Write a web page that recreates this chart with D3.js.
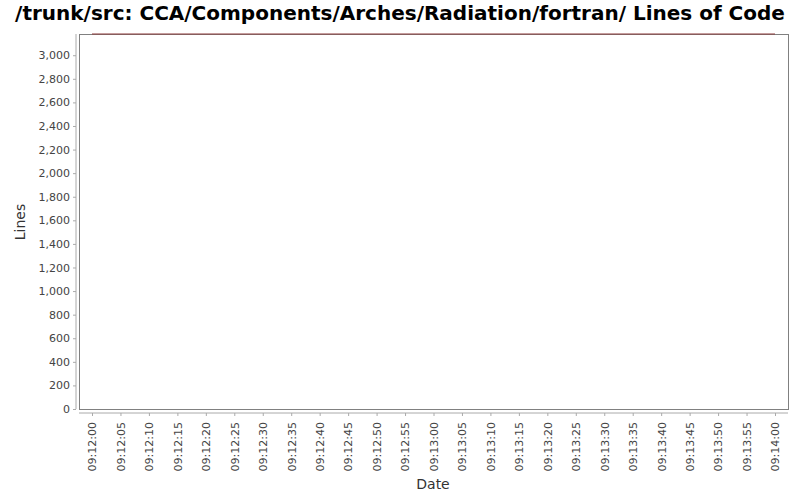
<!DOCTYPE html>
<html><head><meta charset="utf-8">
<script src="https://cdn.jsdelivr.net/npm/d3@7"></script>
<style>body{margin:0;background:#fff}svg{display:block}</style>
</head><body>
<svg id="c" width="800" height="500"></svg>
<script>
const dates = ["2000-01-01T09:12:00", "2000-01-01T09:14:00"];
const lines = [3180, 3180];
const yTicks = [0,200,400,600,800,1000,1200,1400,1600,1800,2000,2200,2400,2600,2800,3000];
const yMax = 3180;
const title = "/trunk/src: CCA/Components/Arches/Radiation/fortran/ Lines of Code";

const svg = d3.select("#c");
const L = 79, R = 788, T = 34, B = 409;
const parse = d3.isoParse;
const x = d3.scaleTime().domain([parse(dates[0]), parse(dates[1])]).range([92, 775]);
const y = d3.scaleLinear().domain([0, yMax]).range([B, T]);
const font = "'DejaVu Sans', sans-serif";

svg.append("text").attr("x", 400).attr("y", 20).attr("text-anchor", "middle")
  .attr("font-family", font).attr("font-weight", "bold").attr("font-size", 20).attr("fill", "#000").text(title);

svg.append("rect").attr("x", L).attr("y", T).attr("width", R - L).attr("height", B - T)
  .attr("fill", "#fff").attr("stroke", "#808080").attr("stroke-width", 1).attr("shape-rendering","crispEdges");

// y axis
const ya = svg.append("g").attr("transform", `translate(76,0)`)
  .call(d3.axisLeft(y).tickValues(yTicks).tickFormat(d3.format(",")).tickSize(3).tickPadding(3));
ya.select(".domain").attr("stroke", "#aaa").attr("d", `M0,${T}V${B}`);
ya.selectAll(".tick line").attr("stroke", "#aaa");
ya.selectAll("text").attr("font-family", font).attr("font-size", 11).attr("fill", "#444");

// x axis
const xTicks = d3.timeSecond.every(5).range(parse(dates[0]), new Date(parse(dates[1]).getTime() + 1));
const xa = svg.append("g").attr("transform", `translate(0,413)`)
  .call(d3.axisBottom(x).tickValues(xTicks).tickFormat(d3.timeFormat("%H:%M:%S")).tickSize(3).tickPadding(3));
xa.select(".domain").attr("stroke", "#aaa").attr("d", `M${L},0H${R}`);
xa.selectAll(".tick line").attr("stroke", "#aaa");
xa.selectAll("text").attr("font-family", font).attr("font-size", 11).attr("fill", "#444")
  .attr("text-anchor", "end").attr("dy", "0.35em")
  .attr("transform", "translate(0,9) rotate(-90)").attr("x", 0).attr("y", 0);

// line
svg.append("path").datum(dates.map((d, i) => ({d: parse(d), v: lines[i]})))
  .attr("fill", "none").attr("stroke", "#8b3a3a").attr("stroke-width", 1.2)
  .attr("d", d3.line().x(p => x(p.d)).y(p => y(p.v)));

svg.append("text").attr("transform", "translate(25,222) rotate(-90)").attr("text-anchor", "middle")
  .attr("font-family", font).attr("font-size", 14).attr("fill", "#333").text("Lines");
svg.append("text").attr("x", 433).attr("y", 489).attr("text-anchor", "middle")
  .attr("font-family", font).attr("font-size", 14).attr("fill", "#333").text("Date");
</script>
</body></html>
